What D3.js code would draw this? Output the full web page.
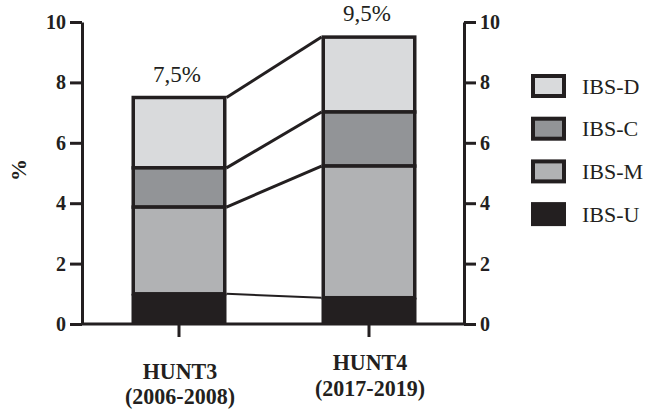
<!DOCTYPE html>
<html>
<head>
<meta charset="utf-8">
<script src="https://cdnjs.cloudflare.com/ajax/libs/d3/7.8.5/d3.min.js"></script>
<style>
    body { margin: 0; background: #ffffff; }
    .chart text { font-family: "Liberation Serif", "Times New Roman", serif; fill: #231f20; }
    .axis text { font-weight: bold; font-size: 20px; }
    .axis path, .axis line { stroke: #231f20; stroke-width: 3; }
</style>
</head>
<body>
<div class="chart"></div>
<script>
var categories = ["HUNT3", "HUNT4"];
var periods = ["(2006-2008)", "(2017-2019)"];
var subtypes = ["IBS-U", "IBS-M", "IBS-C", "IBS-D"];
var ibsU = [1.0, 0.87];
var ibsM = [2.87, 4.36];
var ibsC = [1.3, 1.79];
var ibsD = [2.33, 2.48];
var totals = ["7,5%", "9,5%"];
var yTicks = [0, 2, 4, 6, 8, 10];

var width = 646, height = 410;
var ink = "#231f20";
var color = d3.scaleOrdinal()
    .domain(subtypes)
    .range([ink, "#b1b2b4", "#929497", "#d9dadc"]);

var x = d3.scaleBand().domain(categories).range([84, 464]).paddingInner(0.5).paddingOuter(0.25);
var y = d3.scaleLinear().domain([0, 10]).range([324, 22]);

var rows = categories.map(function(c, i) {
    return { cat: c, "IBS-U": ibsU[i], "IBS-M": ibsM[i], "IBS-C": ibsC[i], "IBS-D": ibsD[i] };
});
var series = d3.stack().keys(subtypes)(rows);
var tops = series[series.length - 1];

var svg = d3.select(".chart")
  .append("svg")
    .attr("width", width)
    .attr("height", height);

var sw = 3.5;

// connector lines between the two bars
svg.selectAll(".link")
    .data(series)
    .enter()
    .append("line")
    .attr("class", "link")
    .attr("x1", x(categories[0]) + x.bandwidth())
    .attr("x2", x(categories[1]))
    .attr("y1", function(s) { return y(s[0][1]); })
    .attr("y2", function(s) { return y(s[1][1]); })
    .style("stroke", ink)
    .style("stroke-width", function(s) { return s.key === "IBS-U" ? 2 : 3; });

// stacked segments, outlined ones first, the dark one on top
var layers = svg.selectAll(".layer")
    .data(series.slice().reverse())
    .enter()
    .append("g")
    .attr("class", "layer")
    .style("fill", function(s) { return color(s.key); });

layers.selectAll("rect")
    .data(function(s) { return s.map(function(d) { d.key = s.key; return d; }); })
    .enter()
    .append("rect")
    .attr("x", function(d) { return d.key === "IBS-U" ? x(d.data.cat) : x(d.data.cat) + sw / 2; })
    .attr("width", function(d) { return d.key === "IBS-U" ? x.bandwidth() : x.bandwidth() - sw; })
    .attr("y", function(d) { return y(d[1]); })
    .attr("height", function(d) { return y(d[0]) - y(d[1]); })
    .style("stroke", function(d) { return d.key === "IBS-U" ? "none" : ink; })
    .style("stroke-width", sw);

// total labels
svg.selectAll(".total")
    .data(categories)
    .enter()
    .append("text")
    .attr("class", "total")
    .attr("text-anchor", "middle")
    .attr("x", function(d) { return x(d) + x.bandwidth() / 2 - 2; })
    .attr("y", function(d, i) { return y(tops[i][1]) - 16; })
    .style("font-size", "23px")
    .text(function(d, i) { return totals[i]; });

// axes
svg.append("g")
    .attr("class", "y axis")
    .attr("transform", "translate(82,0)")
    .call(d3.axisLeft(y).tickValues(yTicks).tickSize(12).tickSizeOuter(0).tickPadding(4));

svg.append("g")
    .attr("class", "y axis")
    .attr("transform", "translate(464,0)")
    .call(d3.axisRight(y).tickValues(yTicks).tickSize(12).tickSizeOuter(0).tickPadding(4));

svg.append("line")
    .attr("x1", 82)
    .attr("x2", 464)
    .attr("y1", y(0))
    .attr("y2", y(0))
    .style("stroke", ink)
    .style("stroke-width", 3);

var xAxis = svg.append("g")
    .attr("class", "x axis")
    .attr("transform", "translate(0," + y(0) + ")")
    .call(d3.axisBottom(x).tickSize(13).tickSizeOuter(0));
xAxis.select(".domain").remove();
xAxis.selectAll("text").remove();

// two-line category labels, a little taller as in the source figure
var labelY = [[379, 404], [370, 396]];
categories.forEach(function(c, i) {
    var cx = x(c) + x.bandwidth() / 2 + 1;
    [c, periods[i]].forEach(function(t, j) {
        svg.append("text")
            .attr("text-anchor", "middle")
            .attr("transform", "translate(" + cx + "," + labelY[i][j] + ") scale(1,1.05)")
            .style("font-weight", "bold")
            .style("font-size", "22px")
            .text(t);
    });
});

svg.append("text")
    .attr("text-anchor", "middle")
    .attr("transform", "translate(26,170) rotate(-90)")
    .style("font-weight", "bold")
    .style("font-size", "22px")
    .text("%");

// legend
var legend = svg.selectAll(".legend")
    .data(subtypes.slice().reverse())
    .enter()
    .append("g")
    .attr("class", "legend")
    .attr("transform", function(d, i) { return "translate(531," + (86 + i * 42.7) + ")"; });

legend.append("rect")
    .attr("x", function(d) { return d === "IBS-U" ? 0 : 2; })
    .attr("y", function(d) { return d === "IBS-U" ? -12 : -10; })
    .attr("width", function(d) { return d === "IBS-U" ? 35 : 31; })
    .attr("height", function(d) { return d === "IBS-U" ? 24 : 20; })
    .style("fill", function(d) { return color(d); })
    .style("stroke", function(d) { return d === "IBS-U" ? "none" : ink; })
    .style("stroke-width", 4);

legend.append("text")
    .attr("x", 51)
    .attr("dy", "0.35em")
    .style("font-size", "22px")
    .text(function(d) { return d; });
</script>
</body>
</html>
